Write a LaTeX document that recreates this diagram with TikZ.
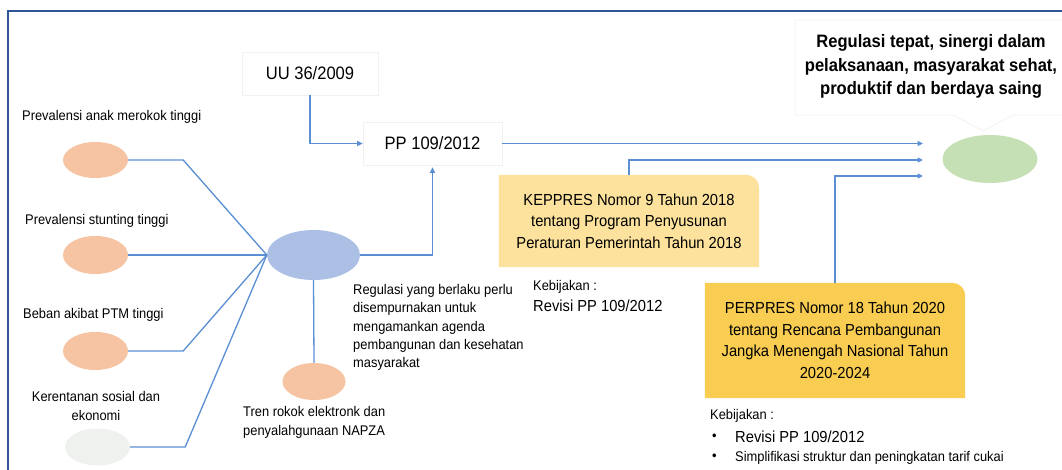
\documentclass[tikz,border=0pt]{standalone}
\usepackage{fontspec}
\setmainfont{Liberation Sans}[FakeStretch=0.92]
\usetikzlibrary{shapes.geometric,arrows.meta}
\definecolor{framec}{HTML}{2F5597}
\definecolor{linec}{HTML}{5B8FD3}
\definecolor{salmon}{HTML}{F6C4A3}
\definecolor{hubc}{HTML}{ACC0E6}
\definecolor{greenc}{HTML}{C5E0B4}
\definecolor{greyc}{HTML}{EFF1EF}
\definecolor{keppc}{HTML}{FCE29C}
\definecolor{perpc}{HTML}{F9CC52}
\definecolor{boxline}{HTML}{F1F1F1}
\pgfdeclarelayer{bg}
\pgfsetlayers{bg,main}
\begin{document}
\begin{tikzpicture}[x=1pt,y=-1pt,
  oval/.style={ellipse, inner sep=0, draw=none},
  conn/.style={draw=linec, line width=1.3pt},
  arr/.style={conn, -{Triangle[length=5.5pt,width=5pt]}},
  lbl/.style={inner sep=0, anchor=west, font=\fontsize{14}{18.3}\selectfont, align=left},
  big/.style={inner sep=0, anchor=west, font=\fontsize{16}{20}\selectfont},
  lawbox/.style={draw=boxline, line width=0.7pt, inner sep=0, font=\fontsize{18}{22}\selectfont},
  ybox/.style={inner sep=0, align=center, font=\fontsize{16}{21.5}\selectfont}
]
\useasboundingbox (0,0) rectangle (1062,470);
\clip (0,0) rectangle (1062,470);
\begin{pgfonlayer}{bg}
\fill[white] (0,0) rectangle (1062,470);
\end{pgfonlayer}

% frame
\draw[framec, line width=1.8pt] (8,11) rectangle (1080,490);

% goal callout
\draw[boxline, line width=0.7pt] (1080,20) -- (795,20) -- (795,115) -- (953,115) -- (983,131) -- (1013,115) -- (1080,115);
\node[inner sep=0, align=center, font=\bfseries\fontsize{18}{23.5}\selectfont] (goal) at (931,66.5)
  {Regulasi tepat, sinergi dalam\\pelaksanaan, masyarakat sehat,\\produktif dan berdaya saing};

% law boxes
\node[lawbox, minimum width=136pt, minimum height=43pt] (uu) at (310,73.5) {UU 36/2009};
\node[lawbox, minimum width=139pt, minimum height=43pt] (pp) at (432.5,143.5) {PP 109/2012};

% ellipses
\node[oval, fill=salmon, minimum width=65pt, minimum height=36pt] (e1) at (95.5,160) {};
\node[oval, fill=salmon, minimum width=65pt, minimum height=38pt] (e2) at (95.5,255) {};
\node[oval, fill=salmon, minimum width=65pt, minimum height=38pt] (e3) at (95.5,351) {};
\node[oval, fill=greyc, minimum width=65pt, minimum height=37pt] (e4) at (97.5,447) {};
\node[oval, fill=hubc, minimum width=93pt, minimum height=50pt] (hub) at (313.5,255) {};
\node[oval, fill=salmon, minimum width=63pt, minimum height=37pt] (tren) at (314,381.5) {};
\node[oval, fill=greenc, minimum width=95pt, minimum height=48pt] (goalov) at (990,159) {};

% labels
\node[lbl] (t1) at (22,117) {Prevalensi anak merokok tinggi};
\node[lbl] (t2) at (25,221) {Prevalensi stunting tinggi};
\node[lbl] (t3) at (23,315) {Beban akibat PTM tinggi};
\node[lbl, anchor=center, align=center] (t4) at (96,406) {Kerentanan sosial dan\\ekonomi};
\node[lbl] (t5) at (243,422.5) {Tren rokok elektronk dan\\penyalahgunaan NAPZA};
\node[lbl] (t6) at (353,327.5) {Regulasi yang berlaku perlu\\disempurnakan untuk\\mengamankan agenda\\pembangunan dan kesehatan\\masyarakat};

% yellow boxes
\node[ybox, minimum width=260pt, minimum height=92pt] (kep) at (629,221)
  {KEPPRES Nomor 9 Tahun 2018\\tentang Program Penyusunan\\Peraturan Pemerintah Tahun 2018};
\node[ybox, minimum width=260pt, minimum height=115pt] (perp) at (835,340.5)
  {PERPRES Nomor 18 Tahun 2020\\tentang Rencana Pembangunan\\Jangka Menengah Nasional Tahun\\2020-2024};
\begin{pgfonlayer}{bg}
\fill[keppc] (kep.south west) -- (kep.north west) -- ([xshift=-13pt]kep.north east)
  to[out=0,in=90] ([yshift=-13pt]kep.north east) -- (kep.south east) -- cycle;
\fill[perpc] (perp.south west) -- (perp.north west) -- ([xshift=-13pt]perp.north east)
  to[out=0,in=90] ([yshift=-13pt]perp.north east) -- (perp.south east) -- cycle;
\end{pgfonlayer}

% policy texts
\node[lbl] (k1) at (533,287) {Kebijakan :};
\node[big] (k1r) at (533,305.5) {Revisi PP 109/2012};
\node[lbl] (k2) at (710,416) {Kebijakan :};
\node[lbl] (b1) at (712,437) {\textbullet};
\node[big] (k2r) at (735,437) {Revisi PP 109/2012};
\node[lbl] (b2) at (712,457.5) {\textbullet};
\node[lbl] (k2s) at (735,457.5) {Simplifikasi struktur dan peningkatan tarif cukai};

% connectors
\coordinate (g1) at (923,143.5);
\coordinate (g2) at (923,160);
\coordinate (g3) at (923,176);
\draw[conn] (e1.east) -- ++(55,0) -- (hub.west);
\draw[conn] (e2.east) -- (hub.west);
\draw[conn] (e3.east) -- ++(55,0) -- (hub.west);
\draw[conn] (e4.east) -- ++(55,0) -- (hub.west);
\draw[conn] (hub.south) -- (tren.north);
\draw[arr] (hub.east) -| ([yshift=-2pt]pp.south);
\draw[arr] (uu.south) |- (pp.west);
\draw[arr] (pp.east) -- (g1);
\draw[arr] (kep.north) |- (g2);
\draw[arr] (perp.north) |- (g3);
\end{tikzpicture}
\end{document}
